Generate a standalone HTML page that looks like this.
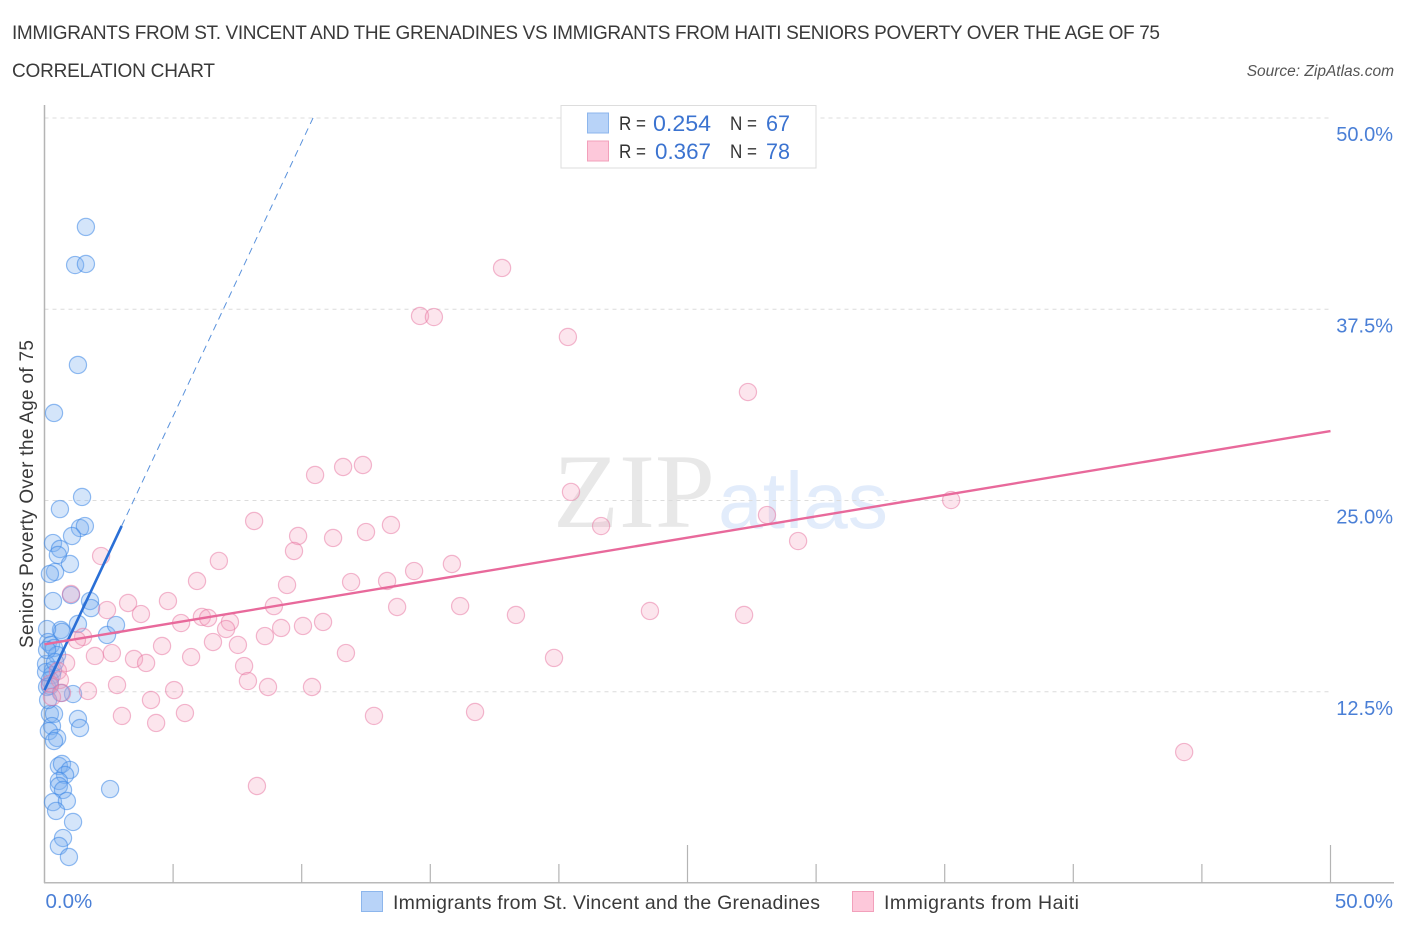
<!DOCTYPE html>
<html lang="en">
<head>
<meta charset="utf-8">
<title>Seniors Poverty Correlation Chart</title>
<style>
html,body{margin:0;padding:0;background:#fff;width:1406px;height:930px;overflow:hidden}
svg{display:block;font-family:"Liberation Sans",sans-serif}
</style>
</head>
<body>
<svg id="chart" width="1406" height="930" viewBox="0 0 1406 930" xmlns="http://www.w3.org/2000/svg">
  <text x="12" y="39" font-size="19" fill="#3a3a3a" textLength="1148" lengthAdjust="spacing">IMMIGRANTS FROM ST. VINCENT AND THE GRENADINES VS IMMIGRANTS FROM HAITI SENIORS POVERTY OVER THE AGE OF 75</text>
  <text x="12" y="77" font-size="19" fill="#3a3a3a" textLength="203" lengthAdjust="spacing">CORRELATION CHART</text>
  <text x="1394" y="76" font-size="15.5" font-style="italic" fill="#555" text-anchor="end">Source: ZipAtlas.com</text>
  <text x="553" y="527" font-family="'Liberation Serif',serif" font-size="106" fill="#e8e8e8" textLength="162" lengthAdjust="spacingAndGlyphs">ZIP</text>
  <text x="718" y="528" font-size="80" fill="#e2ecfb" textLength="170" lengthAdjust="spacingAndGlyphs">atlas</text>
  <g id="grid"></g>
  <g id="axes"></g>
  <text transform="translate(33,494) rotate(-90)" font-size="19" fill="#3a3a3a" text-anchor="middle" textLength="308" lengthAdjust="spacing">Seniors Poverty Over the Age of 75</text>
  <g id="points-blue"></g>
  <g id="points-pink"></g>
  <g id="trends"></g>
  <g id="labels"></g>

  <g>
    <rect x="561" y="105.500" width="255" height="62.500" fill="#fff" stroke="#ddd" stroke-width="1"/>
    <rect x="587.500" y="113" width="21" height="20" fill="#b8d3f8" stroke="#8db6ec" stroke-width="1"/>
    <rect x="587.500" y="141" width="21" height="20" fill="#fdc8da" stroke="#f2a0bb" stroke-width="1"/>
    <text x="619" y="130" font-size="19.500" fill="#333" textLength="27" lengthAdjust="spacingAndGlyphs">R =</text>
    <text x="653" y="131" font-size="22" fill="#3b73d0" textLength="58" lengthAdjust="spacingAndGlyphs">0.254</text>
    <text x="730" y="130" font-size="19.500" fill="#333" textLength="27" lengthAdjust="spacingAndGlyphs">N =</text>
    <text x="766" y="131" font-size="22" fill="#3b73d0" textLength="24" lengthAdjust="spacingAndGlyphs">67</text>
    <text x="619" y="158" font-size="19.500" fill="#333" textLength="27" lengthAdjust="spacingAndGlyphs">R =</text>
    <text x="655" y="159" font-size="22" fill="#3b73d0" textLength="56" lengthAdjust="spacingAndGlyphs">0.367</text>
    <text x="730" y="158" font-size="19.500" fill="#333" textLength="27" lengthAdjust="spacingAndGlyphs">N =</text>
    <text x="766" y="159" font-size="22" fill="#3b73d0" textLength="24" lengthAdjust="spacingAndGlyphs">78</text>
  </g>

  <g>
    <rect x="361.500" y="891.500" width="21" height="20" fill="#b8d3f8" stroke="#8db6ec" stroke-width="1"/>
    <text x="393" y="909" font-size="19.500" fill="#3a3a3a" textLength="427" lengthAdjust="spacing">Immigrants from St. Vincent and the Grenadines</text>
    <rect x="852.500" y="891.500" width="21" height="20" fill="#fdc8da" stroke="#f2a0bb" stroke-width="1"/>
    <text x="884" y="909" font-size="19.500" fill="#3a3a3a" textLength="195" lengthAdjust="spacing">Immigrants from Haiti</text>
  </g>
</svg>
<script>
// Series values, in percent
const blueX = [1.61,1.19,1.61,1.30,0.37,1.46,0.60,1.38,1.57,1.07,0.33,0.60,0.52,0.99,0.41,0.21,1.03,1.77,0.33,1.81,0.64,0.68,0.10,1.30,2.43,2.78,0.14,0.25,0.37,0.49,0.06,0.33,0.29,0.21,0.10,0.21,1.11,0.64,0.21,0.37,1.30,1.38,0.29,0.17,0.49,0.37,0.56,0.68,0.99,0.80,0.56,0.56,0.72,2.55,0.33,0.87,0.45,1.11,0.72,0.56,0.95,0.10,0.06,0.41,0.14];
const blueY = [42.88,40.39,40.46,33.86,30.72,25.23,24.44,23.20,23.33,22.68,22.22,21.83,21.44,20.85,20.33,20.20,18.82,18.43,18.43,17.97,16.54,16.41,16.60,16.93,16.21,16.86,15.75,15.56,15.36,14.90,14.31,13.92,13.59,13.27,12.81,12.88,12.35,12.42,11.05,11.05,10.72,10.13,10.26,9.93,9.48,9.28,7.65,7.78,7.39,7.06,6.67,6.34,6.08,6.14,5.29,5.36,4.71,3.99,2.94,2.42,1.70,15.23,13.79,14.44,11.96];
const pinkX = [17.79,14.60,15.14,20.35,27.35,12.38,11.61,10.52,20.47,35.25,8.15,28.09,21.64,13.47,9.86,12.50,11.22,29.30,9.70,2.20,6.78,15.84,14.37,13.32,11.92,5.93,9.43,1.03,3.25,4.80,8.92,13.71,16.16,2.43,3.75,18.33,23.54,27.20,6.12,6.36,7.21,5.31,7.06,9.20,10.05,10.83,1.50,1.26,6.55,4.57,7.52,1.96,2.62,3.48,3.95,5.70,8.57,11.72,19.81,0.84,7.76,0.52,0.60,0.21,2.82,7.91,5.04,1.69,8.69,10.40,4.14,0.68,0.29,3.01,4.34,5.46,12.81,16.74,44.31,8.26];
const pinkY = [40.20,37.06,36.99,35.69,32.09,27.32,27.19,26.67,25.56,25.03,23.66,24.05,23.33,23.40,22.68,22.94,22.55,22.35,21.70,21.37,21.05,20.85,20.39,19.74,19.67,19.74,19.48,18.89,18.30,18.43,18.10,18.04,18.10,17.84,17.58,17.52,17.78,17.52,17.39,17.32,17.06,16.99,16.60,16.67,16.80,17.06,16.08,15.88,15.75,15.49,15.56,14.84,15.03,14.64,14.38,14.77,16.14,15.03,14.71,14.38,14.18,13.86,13.27,13.01,12.94,13.20,12.61,12.55,12.81,12.81,11.96,12.42,12.16,10.92,10.46,11.11,10.92,11.18,8.56,6.34];
// Trend-line endpoints, in percent
const blueTrendSolidX = [0, 3];
const blueTrendSolidY = [12.6, 23.34];
const blueTrendDashX = [3, 10.44];
const blueTrendDashY = [23.34, 50];
const pinkTrendX = [0, 50];
const pinkTrendY = [15.6, 29.54];
// Axis values
const yGridValues = [12.5, 25, 37.5, 50];
const yTickLabels = ["12.5%", "25.0%", "37.5%", "50.0%"];
const xTickValues = [5, 10, 15, 20, 25, 30, 35, 40, 45, 50];
const xMajorTicks = [25, 50];
const xEndValues = [0, 50];
const xEndLabels = ["0.0%", "50.0%"];

const NS = "http://www.w3.org/2000/svg";
function xScale(v) { return 44.5 + v * 25.72; }
function yScale(v) { return 883 - v * 15.3; }
function make(parent, tag, attrs) {
  const el = document.createElementNS(NS, tag);
  for (const k in attrs) el.setAttribute(k, attrs[k]);
  document.getElementById(parent).appendChild(el);
  return el;
}

yGridValues.forEach(function (v) {
  const el = make("grid", "line", {x1: 44.5, x2: 1330.5, y1: yScale(v), y2: yScale(v), stroke: "#dcdcdc", "stroke-width": 1, "stroke-dasharray": "4 4"});
  
  
});

const yAxisLine = make("axes", "line", {x1: 44.5, x2: 44.5, y1: 105, y2: 883, stroke: "#b4b4b4", "stroke-width": 1.5});


const xAxisLine = make("axes", "line", {x1: 44, x2: 1394, y1: 882.8, y2: 882.8, stroke: "#b9b9b9", "stroke-width": 1.5});



xTickValues.forEach(function (v) {
  const top = xMajorTicks.includes(v) ? 845 : 864;
  const el = make("axes", "line", {x1: xScale(v), x2: xScale(v), y1: top, y2: 883, stroke: "#b4b4b4", "stroke-width": 1.2});
  
  
});

blueX.forEach(function (v, i) {
  const el = make("points-blue", "circle", {cx: xScale(v), cy: yScale(blueY[i]), r: 8.6, fill: "rgba(120,175,240,0.32)", stroke: "rgba(60,135,230,0.55)", "stroke-width": 1.2});
  
  
});
pinkX.forEach(function (v, i) {
  const el = make("points-pink", "circle", {cx: xScale(v), cy: yScale(pinkY[i]), r: 8.6, fill: "rgba(245,160,190,0.28)", stroke: "rgba(232,115,160,0.5)", "stroke-width": 1.2});
  
  
});

const trendBlueDash = make("trends", "line", {x1: xScale(blueTrendDashX[0]), y1: yScale(blueTrendDashY[0]), x2: xScale(blueTrendDashX[1]), y2: yScale(blueTrendDashY[1]), stroke: "#5a92dc", "stroke-width": 1, "stroke-dasharray": "7 5"});


const trendBlue = make("trends", "line", {x1: xScale(blueTrendSolidX[0]), y1: yScale(blueTrendSolidY[0]), x2: xScale(blueTrendSolidX[1]), y2: yScale(blueTrendSolidY[1]), stroke: "#2a6fd6", "stroke-width": 2.6});


const trendPink = make("trends", "line", {x1: xScale(pinkTrendX[0]), y1: yScale(pinkTrendY[0]), x2: xScale(pinkTrendX[1]), y2: yScale(pinkTrendY[1]), stroke: "#e8699b", "stroke-width": 2.4});



yGridValues.forEach(function (v, i) {
  const el = make("labels", "text", {x: 1393, y: yScale(v) + 23, "font-size": 20, fill: "#4a7fd6", "text-anchor": "end"});
  el.textContent = yTickLabels[i];
  
  
});
xEndValues.forEach(function (v, i) {
  const el = make("labels", "text", {x: i === 0 ? xScale(v) + 1 : 1393, y: 908, "font-size": 20.5, fill: "#4a7fd6", "text-anchor": i === 0 ? "start" : "end"});
  el.textContent = xEndLabels[i];
  
  
});
</script>
</body>
</html>
